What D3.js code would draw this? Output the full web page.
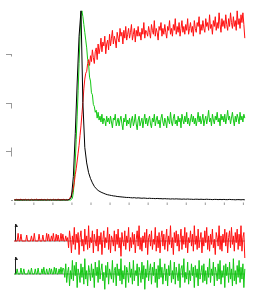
<!DOCTYPE html>
<html><head><meta charset="utf-8">
<script src="https://cdn.jsdelivr.net/npm/d3@7"></script>
<style>html,body{margin:0;padding:0;background:#fff;}svg{display:block;}</style>
</head><body>
<svg id="c" width="254" height="299"></svg>
<script>
// sampling grids
const coarseTime = d3.range(122).map(i => +(i*0.1).toFixed(2));
const fineTime = d3.range(243).map(i => +(i*0.05).toFixed(2));
const xTicks = [0,1,2,3,4,5,6,7,8,9,10,11,12];
const yTicks = [0.25,0.5,0.75];

// black trace (coarse grid)
const blackSeries = [
0,0,0,0,0,0,0,0,0,0, 0,0,0,0,0,0,0,0,0,0, 0,0,0,0,0,0,0,0,0,
0.003,0.015,0.12,0.34,0.6,0.84,0.97,0.5,0.27,0.19,0.14,0.11,0.088,0.07,0.058,0.049,0.043,0.038,0.034,0.03,0.027,
0.025,0.023,0.021,0.02,0.018,0.017,0.016,0.015,0.014,0.013,0.013,
0.012,0.011,0.012,0.010,0.011,0.010,0.009,0.010,0.009,0.008,
0.009,0.008,0.008,0.007,0.008,0.007,0.007,0.006,0.007,0.006,
0.006,0.005,0.006,0.005,0.006,0.005,0.005,0.004,0.005,0.004,
0.005,0.004,0.004,0.003,0.004,0.004,0.003,0.004,0.003,0.003,
0.004,0.003,0.003,0.002,0.003,0.003,0.002,0.003,0.002,0.003,
0.002,0.002,0.003,0.002,0.002,0.001,0.002,0.002,0.001,0.002,0.001];

// green trace (fine grid)
const greenSeries = [
0,0,0,0,0,0,0,0,0,0, 0,0,0,0,0,0,0,0,0,0, 0,0,0,0,0,0,0,0,0,0,
0,0,0,0,0,0,0,0,0,0, 0,0,0,0,0,0,0,0,0,0, 0,0,0,0,0,0,0,0,0,0,
0.003,0.01,0.04,0.1,0.2,0.31,0.43,0.56,0.7,0.84,0.95,0.97,0.94,0.9,0.86,0.82,
0.78,0.72,0.70,0.63,0.61,0.55,0.54,0.49,0.48,0.45,0.46,0.42,0.45,0.41,
0.43,0.40,0.44,0.39,0.42,0.41,0.38,0.43,0.40,0.42,
0.39,0.43,0.40,0.37,0.42,0.41,0.44,0.38,0.40,0.42,
0.38,0.41,0.43,0.39,0.36,0.42,0.40,0.44,0.38,0.41,
0.39,0.42,0.37,0.41,0.43,0.38,0.40,0.44,0.39,0.36,
0.41,0.43,0.38,0.40,0.42,0.37,0.41,0.44,0.39,0.42,
0.38,0.41,0.43,0.39,0.37,0.42,0.40,0.44,0.38,0.41,
0.43,0.39,0.41,0.37,0.42,0.44,0.40,0.38,0.42,0.40,
0.37,0.43,0.41,0.39,0.45,0.40,0.38,0.42,0.44,0.39,
0.41,0.38,0.43,0.40,0.42,0.37,0.44,0.41,0.39,0.43,
0.40,0.45,0.39,0.42,0.38,0.41,0.44,0.40,0.43,0.39,
0.42,0.38,0.41,0.45,0.40,0.43,0.39,0.41,0.44,0.38,
0.41,0.43,0.39,0.42,0.46,0.40,0.42,0.38,0.44,0.41,
0.39,0.43,0.41,0.45,0.40,0.42,0.38,0.44,0.41,0.43,
0.40,0.44,0.39,0.42,0.46,0.41,0.43,0.39,0.42,0.45,
0.41,0.38,0.43,0.40,0.44,0.42,0.39,0.45,0.41,0.43,
0.40,0.44,0.42];

// red trace (fine grid)
const redSeries = [
0.002,0,0.004,0.001,0.003,0,0.002,0.005,0.001,0,
0.003,0.001,0.004,0,0.002,0.003,0,0.001,0.004,0.002,
0,0.003,0.001,0.005,0.002,0,0.003,0.001,0.002,0.004,
0,0.002,0.003,0.001,0,0.004,0.002,0.001,0.003,0,
0.002,0.004,0.001,0.003,0,0.002,0.005,0.001,0.002,0,
0.003,0.001,0.004,0.002,0,0.003,0.001,0.002,
0.008,0.015,0.025,0.04,0.06,0.09,0.13,0.16,0.2,0.24,0.28,0.33,0.38,0.44,0.5,0.57,0.62,0.65,0.66,0.7,0.72,0.69,
0.74,0.71,0.77,0.73,0.70,0.76,0.78,0.72,0.80,0.75,
0.78,0.83,0.76,0.81,0.79,0.84,0.75,0.80,0.82,0.77,
0.85,0.79,0.83,0.87,0.80,0.84,0.82,0.78,0.86,0.83,
0.81,0.88,0.84,0.86,0.80,0.87,0.83,0.89,0.82,0.85,
0.88,0.83,0.86,0.90,0.82,0.85,0.88,0.81,0.87,0.84,
0.89,0.84,0.86,0.82,0.88,0.85,0.91,0.83,0.87,0.86,
0.84,0.89,0.86,0.83,0.90,0.87,0.85,0.92,0.84,0.88,
0.86,0.82,0.89,0.87,0.91,0.84,0.88,0.85,0.90,0.86,
0.83,0.89,0.87,0.92,0.85,0.88,0.84,0.90,0.87,0.93,
0.85,0.89,0.86,0.91,0.84,0.88,0.92,0.86,0.89,0.85,
0.90,0.87,0.93,0.85,0.88,0.91,0.86,0.89,0.84,0.92,
0.88,0.86,0.91,0.89,0.94,0.85,0.90,0.87,0.92,0.88,
0.86,0.93,0.89,0.91,0.87,0.95,0.88,0.90,0.85,0.92,
0.89,0.94,0.87,0.91,0.88,0.96,0.90,0.86,0.93,0.89,
0.92,0.88,0.95,0.90,0.87,0.93,0.89,0.96,0.91,0.88,
0.94,0.89,0.92,0.87,0.97,0.90,0.93,0.88,0.95,0.91,
0.96,0.90,0.83];

// residuals (fine grid)
const redResidual = [
0,0,0,0,0.45,0,0,0.4,0,0,
0,0,0,0.35,0,0,0,0,0.3,0,
0,0.45,0,0,0,0,0.4,0,0,0,
0.35,0,0,0,0.45,0,0.4,0,0,0.3,
0,0.45,0,0,0.4,0,0.35,0,0,0.45,
0,0.4,0,0,0.3,0,
0.2,-0.4,0.6,0.1,-0.7,0.3,-0.2,0.8,-0.5,0.4,
-0.1,0.5,-0.8,0.2,0.6,-0.3,0.1,-0.6,0.7,-0.2,
0.3,-0.5,0.9,-0.4,0.2,-0.1,0.6,-0.7,0.4,0.0,
-0.3,0.7,-0.6,0.3,-0.2,0.5,-0.8,0.1,0.6,-0.4,
0.2,-0.1,0.8,-0.5,0.4,-0.7,0.3,0.1,-0.3,0.6,
-0.6,0.4,-0.2,0.7,-0.4,0.2,-0.9,0.5,0.0,-0.3,
0.6,-0.5,0.3,-0.1,0.8,-0.6,0.2,-0.4,0.5,-0.2,
0.4,-0.7,0.1,0.6,-0.3,0.9,-0.5,0.2,-0.6,0.3,
-0.1,0.5,-0.4,0.7,-0.8,0.2,0.4,-0.3,0.6,-0.5,
0.1,-0.2,0.8,-0.6,0.3,-0.4,0.5,-0.7,0.2,0.6,
-0.3,0.4,-0.5,0.1,0.7,-0.6,0.3,-0.2,0.9,-0.4,
0.2,-0.8,0.5,-0.1,0.6,-0.3,0.4,-0.6,0.1,0.7,
-0.5,0.3,-0.2,0.8,-0.4,0.5,-0.7,0.2,-0.1,0.6,
-0.3,0.4,-0.6,0.9,-0.2,0.3,-0.5,0.7,-0.4,0.1,
0.5,-0.7,0.2,-0.3,0.6,-0.1,0.8,-0.5,0.3,-0.6,
0.4,-0.2,0.7,-0.4,0.1,-0.8,0.5,0.2,-0.3,0.9,
-0.5,0.3,-0.6,0.4,-0.1,0.7,-0.3,0.5,-0.7,0.2,
0.6,-0.4,0.8,-0.2,0.3,-0.6,0.5,-0.1,0.7,-0.5,
0.4,-0.3,0.9,-0.6,0.2,0.5,-1.0];

const greenResidual = [
0,0,0,0.3,0,0,0,0.35,0,0,
0.3,0,0,0,0,0.25,0,0,0.35,0,
0,0,0.3,0,0,0.35,0,0,0,0.3,
0,0.4,0,0,0.3,0,0,0.35,0,0.3,
0,0,0.4,0,0.35,0,0,0.3,0,0.4,
0,0.35,
0.3,-0.2,0.6,-0.5,0.1,0.4,-0.7,0.2,-0.3,0.8,
-0.4,0.5,-0.1,0.7,-0.8,0.3,0.0,-0.5,0.6,-0.2,
0.4,-0.6,0.9,-0.3,0.2,-0.7,0.5,0.1,-0.4,0.6,
-0.2,0.3,-0.8,0.7,-0.1,0.4,-0.5,0.8,-0.3,0.2,
0.6,-0.4,0.1,-0.9,0.5,-0.2,0.7,-0.6,0.3,0.0,
-0.3,0.8,-0.5,0.2,0.4,-0.7,0.6,-0.1,0.3,-0.4,
0.9,-0.6,0.2,-0.3,0.5,-0.8,0.4,0.1,-0.5,0.7,
-0.2,0.3,-0.6,0.8,-0.4,0.2,-0.1,0.6,-0.7,0.4,
0.1,-0.5,0.7,-0.3,0.5,-0.9,0.3,-0.2,0.8,-0.4,
0.2,0.6,-0.6,0.4,-0.1,0.7,-0.5,0.3,-0.8,0.5,
-0.3,0.9,-0.2,0.4,-0.6,0.1,0.6,-0.4,0.3,-0.7,
0.5,-0.1,0.8,-0.5,0.2,-0.3,0.7,-0.6,0.4,0.0,
-0.4,0.6,-0.8,0.3,0.5,-0.2,0.9,-0.5,0.1,-0.3,
0.7,-0.6,0.2,-0.4,0.6,-0.1,0.4,-0.8,0.5,-0.2,
0.3,-0.7,0.8,-0.3,0.1,0.5,-0.5,0.6,-0.4,0.2,
-0.6,0.4,-0.2,0.9,-0.5,0.3,-0.1,0.7,-0.7,0.4,
0.1,-0.4,0.6,-0.3,0.8,-0.6,0.2,-0.2,0.5,-0.8,
0.6,-0.1,0.4,-0.5,0.7,-0.3,0.3,-0.7,0.9,-0.4,
0.2,-0.6,0.5,-0.2,0.8,-0.5,0.4,-0.3,0.6,-0.8,
0.3];

const svg = d3.select("#c");
const x = d3.scaleLinear().domain([0,12]).range([14.3,242.9]);
const y = d3.scaleLinear().domain([0,1]).range([200,5]);
const yR1 = d3.scaleLinear().domain([-1,1]).range([258,224]);
const yR2 = d3.scaleLinear().domain([-1,1]).range([291,257]);

// bottom ticks
const ax = svg.append("g").attr("transform","translate(0,202.5)")
  .call(d3.axisBottom(x).tickValues(xTicks).tickSize(2.5).tickFormat(""));
ax.select(".domain").remove();
ax.selectAll(".tick line").attr("stroke","#999");

// left tick marks
const lt = svg.append("g").attr("stroke","#999").attr("fill","none").attr("stroke-width",1);
yTicks.forEach((v,k) => {
  const yy = Math.round(y(v)) + 0.5;
  lt.append("line").attr("x1",6).attr("x2",12).attr("y1",yy).attr("y2",yy);
  if (k===0) lt.append("line").attr("x1",11.5).attr("x2",11.5).attr("y1",yy-4).attr("y2",yy+5);
  else if (k===1) lt.append("line").attr("x1",11.5).attr("x2",11.5).attr("y1",yy).attr("y2",yy+5);
  else lt.append("line").attr("x1",11.5).attr("x2",11.5).attr("y1",yy).attr("y2",yy+2);
});
lt.append("line").attr("x1",11).attr("x2",13).attr("y1",Math.round(y(0))+0.5).attr("y2",Math.round(y(0))+0.5);

const lineOn = (grid, ys) => d3.line().x((d,i)=>x(grid[i])).y(d=>ys(d));

svg.append("path").datum(greenSeries).attr("d",lineOn(fineTime,y)).attr("fill","none").attr("stroke","#14c814").attr("stroke-width",1);
svg.append("path").datum(redSeries).attr("d",lineOn(fineTime,y)).attr("fill","none").attr("stroke","#ff1010").attr("stroke-width",1);
svg.append("path").datum(blackSeries).attr("d",lineOn(coarseTime,y)).attr("fill","none").attr("stroke","#000").attr("stroke-width",1);

// residual panels
function resPanel(data, ys, color) {
  const g = svg.append("g");
  g.append("line").attr("x1",x(0)).attr("x2",x(12.1)).attr("y1",ys(0)).attr("y2",ys(0)).attr("stroke","#555").attr("stroke-width",0.8);
  g.append("line").attr("x1",15.5).attr("x2",15.5).attr("y1",ys(0)).attr("y2",ys(1)).attr("stroke","#222").attr("stroke-width",1);
  g.append("path").attr("d",`M14.5,${ys(1)+3} L16.5,${ys(1)} L18,${ys(1)+3} Z`).attr("fill","#222");
  g.append("path").datum(data).attr("d",lineOn(fineTime,ys)).attr("fill","none").attr("stroke",color).attr("stroke-width",1);
}
resPanel(redResidual, yR1, "#ff1010");
resPanel(greenResidual, yR2, "#14c814");
</script>
</body></html>
